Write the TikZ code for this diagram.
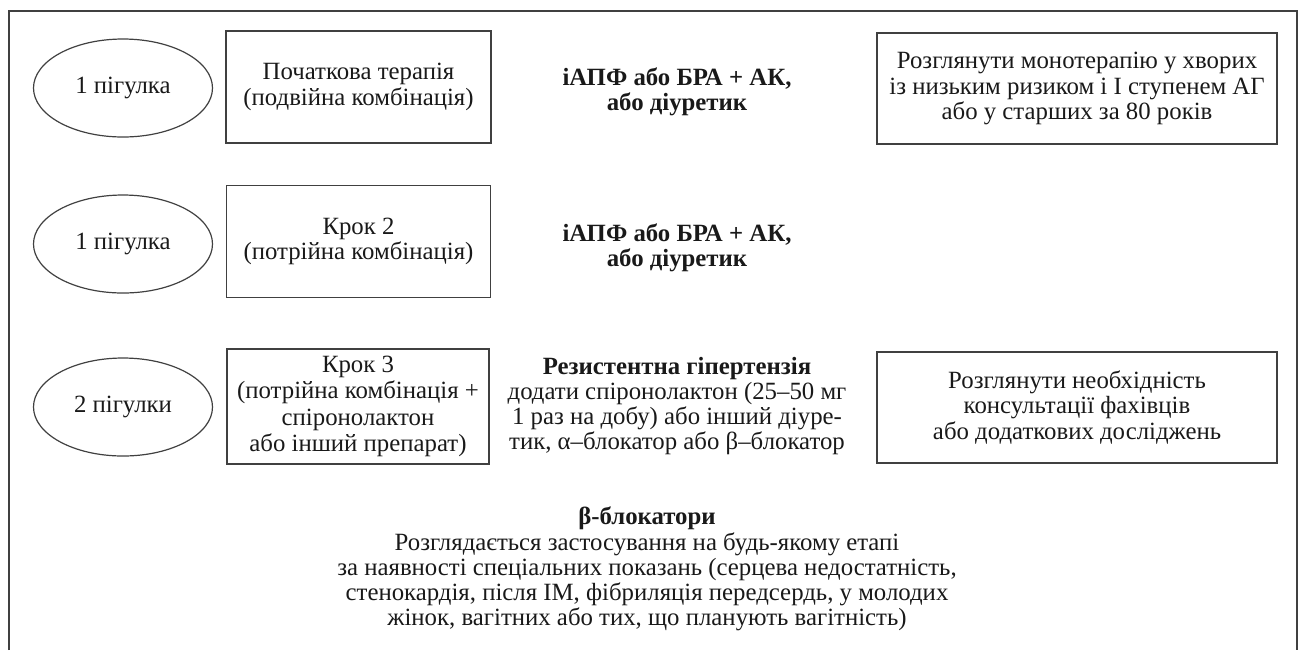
\documentclass[tikz,border=0pt]{standalone}
\usepackage{fontspec}
\setmainfont{Liberation Serif}
\usetikzlibrary{shapes.geometric}

\begin{document}
\begin{tikzpicture}[x=0.5pt, y=-0.5pt,
frame/.style={draw=black!75, line width=0.6pt},
pill/.style={draw=black!75, line width=0.6pt, ellipse, minimum width=89.5pt, minimum height=49pt, inner sep=0},
stepbox/.style={draw=black!75, line width=0.6pt, minimum height=56pt, align=center, inner sep=0},
drug/.style={align=center, inner sep=0},
note/.style={draw=black!75, line width=0.6pt, minimum width=200pt, minimum height=55.5pt, align=center, inner sep=0},
every node/.style={font=\fontsize{12.4}{12.6}\selectfont, text=black!90},
]

%%%%%%%%%%%% SIZE OF THE PICTURE
\useasboundingbox (0,0) rectangle (1304,650);
\draw[frame] (9,650) -- (9,11) -- (1297,11) -- (1297,650);

%%%%%%%%% ROW 1 %%%%%%%%%%%%%
\node[pill] (pill1) at (123,88) {1 пігулка};
\node[stepbox, minimum width=132.5pt] (step1) at (358.5,87) {Початкова терапія\\(подвійна комбінація)};
\node[drug] (drug1) at (677,92) {\textbf{іАПФ або БРА + АК,}\\\textbf{або діуретик}};
\node[note] (note1) at (1077,88.5) {Розглянути монотерапію у хворих\\із низьким ризиком і І ступенем АГ\\або у старших за 80 років};

%%%%%%%%% ROW 2 %%%%%%%%%%%%%
\node[pill] (pill2) at (123,244) {1 пігулка};
\node[stepbox, minimum width=132pt] (step2) at (358.5,241.5) {Крок 2\\(потрійна комбінація)};
\node[drug] (drug2) at (677,248) {\textbf{іАПФ або БРА + АК,}\\\textbf{або діуретик}};

%%%%%%%%% ROW 3 %%%%%%%%%%%%%
\node[pill] (pill3) at (123,407) {2 пігулки};
\node[stepbox, minimum width=131pt, minimum height=57.5pt, font=\fontsize{12.4}{13.3}\selectfont] (step3) at (358,406.5) {Крок 3\\(потрійна комбінація +\\спіронолактон\\або інший препарат)};
\node[drug] (drug3) at (677,406) {\textbf{Резистентна гіпертензія}\\додати спіронолактон (25–50 мг\\1 раз на добу) або інший діуре-\\тик, α–блокатор або β–блокатор};
\node[note] (note3) at (1077,407.5) {Розглянути необхідність\\консультації фахівців\\або додаткових досліджень};

%%%%%%%%% BOTTOM TEXT %%%%%%%%%%%%%
\node[drug] (beta) at (647,569) {\textbf{β-блокатори}\\Розглядається застосування на будь-якому етапі\\за наявності спеціальних показань (серцева недостатність,\\стенокардія, після ІМ, фібриляція передсердь, у молодих\\жінок, вагітних або тих, що планують вагітність)};
\end{tikzpicture}
\end{document}
